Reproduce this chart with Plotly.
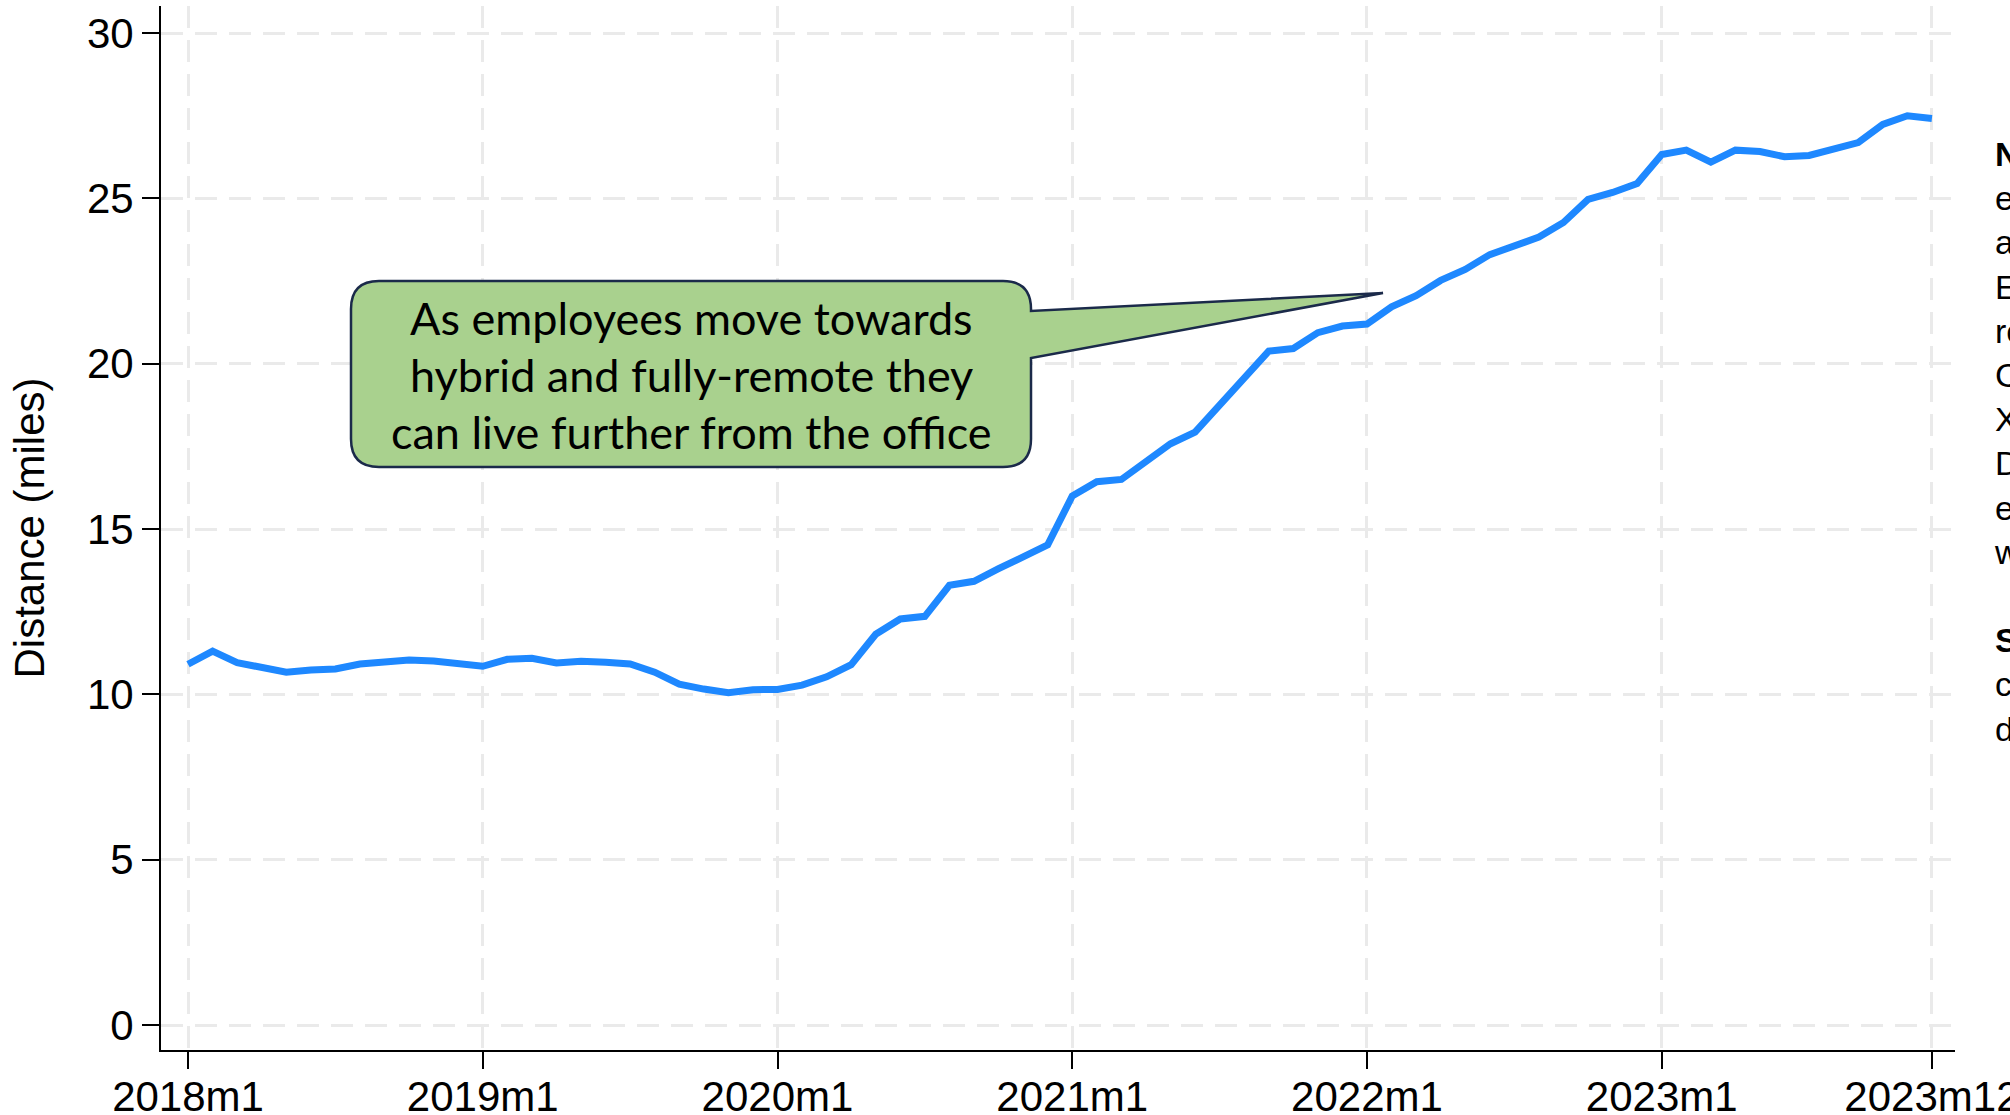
import plotly.graph_objects as go

# ---------------- data ----------------
years = [2018, 2019, 2020, 2021, 2022, 2023]
month_labels = [f"{y}m{m}" for y in years for m in range(1, 13)]
distance_miles = [
    10.91, 11.31, 10.96, 10.82, 10.67, 10.74, 10.77, 10.92, 10.99, 11.04, 11.01, 10.94,
    10.85, 11.06, 11.09, 10.95, 11.00, 10.97, 10.92, 10.67, 10.31, 10.16, 10.05, 10.14,
    10.15, 10.28, 10.53, 10.90, 11.82, 12.28, 12.36, 13.30, 13.42, 13.80, 14.17, 14.52,
    16.00, 16.43, 16.50, 17.05, 17.58, 17.93, 18.75, 19.62, 20.38, 20.46, 20.94, 21.14,
    21.20, 21.72, 22.06, 22.52, 22.85, 23.30, 23.56, 23.83, 24.27, 24.97, 25.18, 25.45,
    26.33, 26.46, 26.10, 26.46, 26.42, 26.26, 26.30, 26.50, 26.69, 27.24, 27.50, 27.42,
]
x_tick_labels = ["2018m1", "2019m1", "2020m1", "2021m1", "2022m1", "2023m1", "2023m12"]
y_tick_values = [0, 5, 10, 15, 20, 25, 30]
callout_lines = [
    "As employees move towards",
    "hybrid and fully-remote they",
    "can live further from the office",
]
note_text = (
    "<b>Note:</b> Mean distance from home to office for<br>"
    "employees of US firms, by month of hire,<br>"
    "across all work arrangements.<br>"
    "Estimates weighted to match the US<br>"
    "remote-work population shares.<br>"
    "Commute distance is measured with<br>"
    "XY-geocoded home and office addresses.<br>"
    "Data cover fully-onsite, hybrid and remote<br>"
    "employees; outliers above 500 miles<br>"
    "were excluded.<br><br>"
    "<b>Source:</b> Author calculations using<br>"
    "company payroll and HR records;<br>"
    "data through December 2023."
)

x_index = list(range(len(month_labels)))
tick_positions = [month_labels.index(t) for t in x_tick_labels]

# ---------------- layout geometry ----------------
W, H = 2010, 1115
ML, MR, MT, MB = 161, 55, 6, 65
XR = [-1.10, 71.94]
YR = [-0.756, 30.82]


def px2x(px):
    return XR[0] + (px - ML) / (W - ML - MR) * (XR[1] - XR[0])


def px2y(py):
    return YR[1] - (py - MT) / (H - MT - MB) * (YR[1] - YR[0])


fig = go.Figure()
fig.add_trace(go.Scatter(
    x=x_index, y=distance_miles, mode="lines",
    line=dict(color="#1E88FF", width=7),
    showlegend=False, hoverinfo="skip",
))

# callout bubble (box + pointer) in pixel-derived data coordinates
L, R, T, B, r = 351, 1031, 281, 467, 28
bt, bb = 311, 358
tipx, tipy = 1383, 293


def P(px, py):
    return f"{px2x(px):.4f},{px2y(py):.4f}"


path = (
    f"M {P(L + r, T)} L {P(R - r, T)} Q {P(R, T)} {P(R, T + r)} "
    f"L {P(R, bt)} L {P(tipx, tipy)} L {P(R, bb)} "
    f"L {P(R, B - r)} Q {P(R, B)} {P(R - r, B)} "
    f"L {P(L + r, B)} Q {P(L, B)} {P(L, B - r)} "
    f"L {P(L, T + r)} Q {P(L, T)} {P(L + r, T)} Z"
)
fig.add_shape(type="path", path=path, xref="x", yref="y",
              fillcolor="#A9D18E", line=dict(color="#1B2A4A", width=2.5),
              layer="above")

for txt, cy in zip(callout_lines, [318, 375, 432]):
    fig.add_annotation(x=px2x(691), y=px2y(cy), xref="x", yref="y",
                       text=txt, showarrow=False, xanchor="center", yanchor="middle",
                       font=dict(family="Lato, Open Sans, sans-serif", size=45, color="black"))

fig.add_annotation(x=(1992 - ML) / (W - ML - MR), y=1 - (441 - MT) / (H - MT - MB),
                   xref="paper", yref="paper", text=note_text, showarrow=False,
                   xanchor="left", yanchor="middle", align="left",
                   font=dict(family="Liberation Sans, Arial, sans-serif", size=34, color="black"))

grid_common = dict(showgrid=True, gridcolor="#EAEAEA", gridwidth=2.5, griddash="22px,12px",
                   zeroline=False, showline=True, linecolor="black", linewidth=2,
                   ticks="outside", ticklen=17, tickwidth=2, tickcolor="black",
                   tickfont=dict(family="Liberation Sans, Arial, sans-serif", size=42, color="black"))

fig.update_xaxes(range=XR, tickvals=tick_positions, ticktext=x_tick_labels,
                 ticklabelstandoff=-8, ticklabeloverflow="allow", **grid_common)
fig.update_yaxes(range=YR, tickvals=y_tick_values,
                 title=dict(text="Distance (miles)", standoff=29,
                            font=dict(family="Liberation Sans, Arial, sans-serif", size=42, color="black")),
                 **grid_common)

fig.update_layout(
    width=W, height=H,
    margin=dict(l=ML, r=MR, t=MT, b=MB, autoexpand=False),
    plot_bgcolor="white", paper_bgcolor="white",
)

fig.write_html("out.html", config={"displayModeBar": False},
               post_script="document.body.style.margin='0px';document.body.style.overflow='hidden';")
